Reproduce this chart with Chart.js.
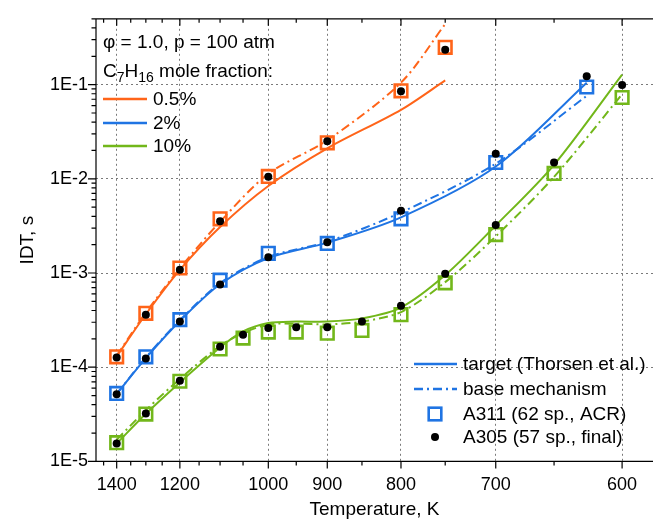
<!DOCTYPE html>
<html>
<head>
<meta charset="utf-8">
<script src="https://cdn.jsdelivr.net/npm/chart.js@4.4.1/dist/chart.umd.min.js"></script>
<style>
  html, body { margin: 0; padding: 0; background: #fff; }
</style>
</head>
<body>
<canvas id="idtChart" width="653" height="522"></canvas>
<script>
// Temperatures (K) of each C7H16 mole fraction
const tempsLow = [1400, 1300, 1200, 1100, 1000, 900, 800, 750];
const tempsMid = [1400, 1300, 1200, 1100, 1000, 900, 800, 700, 625];
const tempsHigh = [1400, 1300, 1200, 1100, 1050, 1000, 950, 900, 850, 800, 750, 700, 650, 600];

// 0.5 %
const targetLow = [1.3e-4, 3.65e-4, 1.08e-3, 3.08e-3, 8.4e-3, 2.11e-2, 5.4e-2, 0.111];
const baseLow = [1.33e-4, 3.8e-4, 1.12e-3, 3.5e-3, 1.13e-2, 2.57e-2, 0.105, 0.44];
const a311Low = [1.29e-4, 3.73e-4, 1.13e-3, 3.76e-3, 1.06e-2, 2.41e-2, 8.6e-2, 0.249];
const a305Low = [1.27e-4, 3.6e-4, 1.08e-3, 3.55e-3, 1.05e-2, 2.51e-2, 8.5e-2, 0.234];

// 2 %
const targetMid = [5.2e-5, 1.25e-4, 3.1e-4, 7.6e-4, 1.44e-3, 2.1e-3, 3.9e-3, 1.35e-2, 0.105];
const baseMid = [5.2e-5, 1.27e-4, 3.15e-4, 7.8e-4, 1.48e-3, 2.15e-3, 4.4e-3, 1.45e-2, 0.076];
const a311Mid = [5.27e-5, 1.29e-4, 3.2e-4, 8.4e-4, 1.62e-3, 2.06e-3, 3.76e-3, 1.49e-2, 9.44e-2];
const a305Mid = [5.15e-5, 1.24e-4, 3.05e-4, 7.55e-4, 1.47e-3, 2.12e-3, 4.59e-3, 1.85e-2, 0.123];

// 10 %
const targetHigh = [1.55e-5, 3.2e-5, 6.9e-5, 1.62e-4, 2.4e-4, 2.95e-4, 3.05e-4, 3.05e-4, 3.3e-4, 4.3e-4, 9.5e-4, 3.2e-3, 1.41e-2, 0.128];
const baseHigh = [1.7e-5, 3.5e-5, 7.5e-5, 1.68e-4, 2.3e-4, 2.85e-4, 2.9e-4, 2.85e-4, 3.05e-4, 3.85e-4, 8.0e-4, 2.45e-3, 1.05e-2, 7.9e-2];
const a311High = [1.58e-5, 3.18e-5, 7.09e-5, 1.56e-4, 2.04e-4, 2.36e-4, 2.36e-4, 2.3e-4, 2.46e-4, 3.61e-4, 7.86e-4, 2.56e-3, 1.14e-2, 7.3e-2];
const a305High = [1.55e-5, 3.23e-5, 7.2e-5, 1.65e-4, 2.21e-4, 2.6e-4, 2.66e-4, 2.66e-4, 3.05e-4, 4.49e-4, 9.84e-4, 3.23e-3, 1.49e-2, 9.9e-2];

// axis ticks
const tempTicks = [1400, 1200, 1000, 900, 800, 700, 600];
const tempMinorTicks = [1450, 1350, 1300, 1250, 1150, 1100, 1050, 950, 850, 750, 650];
const idtTicks = [1e-5, 1e-4, 1e-3, 1e-2, 1e-1];

const ORANGE = '#ff6419';
const BLUE = '#1f74e3';
const GREEN = '#72b71a';
const FONT = '"Liberation Sans", Arial, sans-serif';
const DASHDOT = [9, 4, 2, 4];

const toPoints = (temps, vals) => temps.map((t, i) => ({ x: 1000 / t, y: vals[i] }));

function lineSet(temps, vals, color, dash) {
    return {
        data: toPoints(temps, vals),
        showLine: true,
        borderColor: color,
        borderWidth: 2,
        borderDash: dash || [],
        pointRadius: 0,
        tension: 0.3,
        order: 3
    };
}
function squareSet(temps, vals, color) {
    return {
        data: toPoints(temps, vals),
        pointStyle: 'rect',
        pointRadius: 8.9,
        borderColor: color,
        borderWidth: 2.6,
        backgroundColor: 'rgba(0,0,0,0)',
        order: 1
    };
}
function dotSet(temps, vals) {
    return {
        data: toPoints(temps, vals),
        pointStyle: 'circle',
        pointRadius: 4,
        borderWidth: 0,
        backgroundColor: '#000',
        order: 0
    };
}

// axis frame, tick marks and the two legends
const framePlugin = {
    id: 'frame',
    afterDraw(chart) {
        const { ctx, chartArea: a, scales: { x, y } } = chart;
        ctx.save();
        ctx.strokeStyle = '#000';
        ctx.lineWidth = 1.2;
        ctx.beginPath();
        ctx.moveTo(a.left, a.top); ctx.lineTo(a.right, a.top);
        ctx.moveTo(a.left, a.top); ctx.lineTo(a.left, a.bottom);
        ctx.moveTo(a.left, a.bottom); ctx.lineTo(a.right, a.bottom);

        const xTick = (t, len) => {
            const px = x.getPixelForValue(1000 / t);
            ctx.moveTo(px, a.bottom); ctx.lineTo(px, a.bottom + len);
            ctx.moveTo(px, a.top); ctx.lineTo(px, a.top + len);
        };
        tempTicks.forEach(t => xTick(t, 7));
        tempMinorTicks.forEach(t => xTick(t, 4));

        idtTicks.forEach(v => {
            const py = y.getPixelForValue(v);
            ctx.moveTo(a.left - 8, py); ctx.lineTo(a.left, py);
            for (let m = 2; m <= 9; m++) {
                const mv = v * m;
                if (mv > y.max) break;
                const my = y.getPixelForValue(mv);
                ctx.moveTo(a.left - 4.5, my); ctx.lineTo(a.left, my);
            }
        });
        ctx.stroke();

        // conditions and mole fraction legend
        ctx.fillStyle = '#000';
        ctx.textBaseline = 'middle';
        ctx.textAlign = 'left';
        ctx.font = '19px ' + FONT;
        ctx.fillText('\u03c6 = 1.0, p = 100 atm', 103, 43);

        let cx = 103;
        const cy = 72;
        const parts = [['C', 0], ['7', 1], ['H', 0], ['16', 1], [' mole fraction:', 0]];
        parts.forEach(([txt, sub]) => {
            ctx.font = (sub ? '14px ' : '19px ') + FONT;
            ctx.fillText(txt, cx, sub ? cy + 6 : cy);
            cx += ctx.measureText(txt).width;
        });

        ctx.font = '19px ' + FONT;
        [[ORANGE, '0.5%', 99], [BLUE, '2%', 123], [GREEN, '10%', 146]].forEach(([c, txt, ly]) => {
            ctx.strokeStyle = c;
            ctx.lineWidth = 2.5;
            ctx.beginPath();
            ctx.moveTo(103, ly); ctx.lineTo(147, ly);
            ctx.stroke();
            ctx.fillText(txt, 153, ly + 1);
        });

        // model legend
        ctx.strokeStyle = BLUE;
        ctx.lineWidth = 2.5;
        ctx.beginPath();
        ctx.moveTo(414, 364); ctx.lineTo(457, 364);
        ctx.stroke();
        ctx.setLineDash(DASHDOT);
        ctx.beginPath();
        ctx.moveTo(414, 389); ctx.lineTo(457, 389);
        ctx.stroke();
        ctx.setLineDash([]);
        ctx.lineWidth = 2.6;
        ctx.strokeRect(435 - 6.3, 414 - 6.3, 12.6, 12.6);
        ctx.beginPath();
        ctx.arc(435, 437, 4, 0, Math.PI * 2);
        ctx.fill();
        ctx.fillText('target (Thorsen et al.)', 463, 365);
        ctx.fillText('base mechanism', 463, 390);
        ctx.fillText('A311 (62 sp., ACR)', 463, 415);
        ctx.fillText('A305 (57 sp., final)', 463, 438);
        ctx.restore();
    }
};

const ctx = document.getElementById('idtChart').getContext('2d');
new Chart(ctx, {
    type: 'scatter',
    data: {
        datasets: [
            lineSet(tempsLow, targetLow, ORANGE),
            lineSet(tempsLow, baseLow, ORANGE, DASHDOT),
            lineSet(tempsMid, targetMid, BLUE),
            lineSet(tempsMid, baseMid, BLUE, DASHDOT),
            lineSet(tempsHigh, targetHigh, GREEN),
            lineSet(tempsHigh, baseHigh, GREEN, DASHDOT),
            squareSet(tempsLow, a311Low, ORANGE),
            squareSet(tempsMid, a311Mid, BLUE),
            squareSet(tempsHigh, a311High, GREEN),
            dotSet(tempsLow, a305Low),
            dotSet(tempsMid, a305Mid),
            dotSet(tempsHigh, a305High)
        ]
    },
    options: {
        responsive: false,
        animation: false,
        devicePixelRatio: 1,
        layout: { autoPadding: false, padding: { top: 13, right: 0, bottom: 0, left: 0 } },
        plugins: { legend: { display: false }, tooltip: { enabled: false } },
        scales: {
            x: {
                type: 'linear',
                min: 0.6753,
                max: 1.7249,
                afterBuildTicks: s => { s.ticks = tempTicks.map(t => ({ value: 1000 / t })); },
                afterFit: s => { s.height = 60.6; },
                ticks: {
                    padding: 13,
                    color: '#000',
                    font: { family: FONT, size: 18 },
                    callback: v => String(Math.round(1000 / v))
                },
                grid: { color: '#7a7a7a', lineWidth: 1, drawTicks: false },
                border: { display: false, dash: [2, 3] },
                title: {
                    display: true,
                    text: 'Temperature, K',
                    color: '#000',
                    font: { family: FONT, size: 19 },
                    padding: { top: 0, bottom: 1 }
                }
            },
            y: {
                type: 'logarithmic',
                min: 1e-5,
                max: 0.5,
                afterBuildTicks: s => { s.ticks = idtTicks.map(v => ({ value: v, major: true })); },
                afterFit: s => { s.width = 96; },
                ticks: {
                    padding: 8,
                    color: '#000',
                    font: { family: FONT, size: 18 },
                    callback: v => '1E' + Math.round(Math.log10(v))
                },
                grid: { color: '#7a7a7a', lineWidth: 1, drawTicks: false },
                border: { display: false, dash: [2, 3] },
                title: {
                    display: true,
                    text: 'IDT, s',
                    color: '#000',
                    font: { family: FONT, size: 19 },
                    padding: { top: 16, bottom: 0 }
                }
            }
        }
    },
    plugins: [framePlugin]
});
</script>
</body>
</html>
